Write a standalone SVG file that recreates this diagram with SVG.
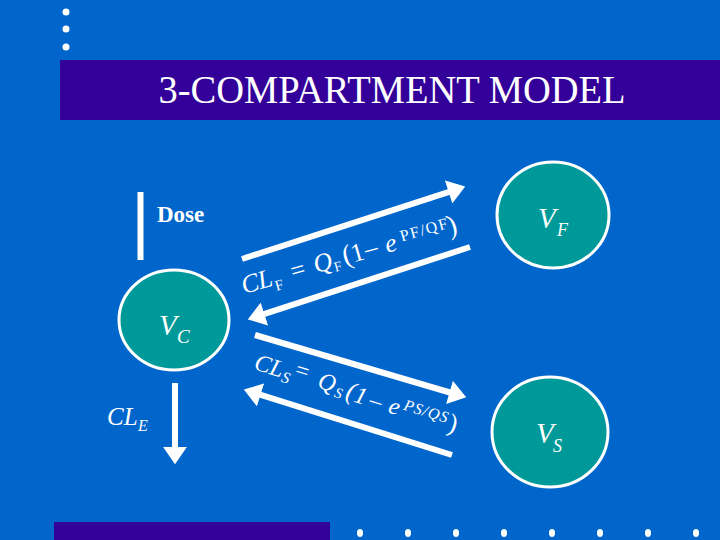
<svg xmlns="http://www.w3.org/2000/svg" width="720" height="540" viewBox="0 0 720 540">
<defs>
<style>
.t{fill:#fff;font-family:"Liberation Serif","Times New Roman",serif}
.i{font-style:italic}
.comp{fill:#009999;stroke:#fff;stroke-width:3}
.ln{stroke:#fff;stroke-width:6;fill:none}
.dot{fill:#fff}
</style>
<marker id="ah" markerUnits="userSpaceOnUse" markerWidth="18" markerHeight="24" viewBox="0 0 16 22" refX="2" refY="11" orient="auto">
<path d="M0,0 L16,11 L0,22 Z" fill="#fff"/>
</marker>
</defs>
<rect width="720" height="540" fill="#0066CC"/>
<g id="decor">
<ellipse class="dot" cx="66" cy="12" rx="3.5" ry="3.5"/>
<ellipse class="dot" cx="66" cy="29" rx="3.5" ry="3.5"/>
<ellipse class="dot" cx="66" cy="47" rx="3.5" ry="3.5"/>
<rect x="54" y="522" width="276" height="18" fill="#330099"/>
<ellipse class="dot" cx="360" cy="533" rx="3" ry="4"/>
<ellipse class="dot" cx="408" cy="533" rx="3" ry="4"/>
<ellipse class="dot" cx="456" cy="533" rx="3" ry="4"/>
<ellipse class="dot" cx="504" cy="533" rx="3" ry="4"/>
<ellipse class="dot" cx="552" cy="533" rx="3" ry="4"/>
<ellipse class="dot" cx="600" cy="533" rx="3" ry="4"/>
<ellipse class="dot" cx="648" cy="533" rx="3" ry="4"/>
<ellipse class="dot" cx="696" cy="533" rx="3" ry="4"/>
</g>
<g id="title">
<rect x="60" y="60" width="660" height="60" fill="#330099"/>
<text class="t" x="392" y="103" font-size="38" text-anchor="middle" textLength="467" lengthAdjust="spacingAndGlyphs" transform="translate(392,103) scale(1,1.08) translate(-392,-103)">3-COMPARTMENT MODEL</text>
</g>
<g id="dose">
<line x1="140.5" y1="192" x2="140.5" y2="260" class="ln" stroke-width="5"/>
<text class="t" x="157" y="222" font-size="23" font-weight="bold">Dose</text>
</g>
<g id="VC">
<ellipse class="comp" cx="174" cy="320" rx="55" ry="50"/>
<text class="t i" x="159" y="335" font-size="29">V</text>
<text class="t i" x="177" y="343" font-size="19">C</text>
</g>
<g id="VF">
<ellipse class="comp" cx="553" cy="215" rx="56" ry="53"/>
<text class="t i" x="538" y="228" font-size="29">V</text>
<text class="t i" x="557" y="236" font-size="18">F</text>
</g>
<g id="VS">
<ellipse class="comp" cx="550" cy="432" rx="58" ry="55"/>
<text class="t i" x="536" y="443" font-size="29">V</text>
<text class="t i" x="553" y="452" font-size="18">S</text>
</g>
<g id="connectors">
<line class="ln" x1="242" y1="259" x2="450.7" y2="191.3" marker-end="url(#ah)"/>
<line class="ln" x1="470" y1="247" x2="262.3" y2="314.7" marker-end="url(#ah)"/>
<line class="ln" x1="255" y1="335" x2="451.6" y2="393" marker-end="url(#ah)"/>
<line class="ln" x1="452" y1="455" x2="258.4" y2="394.2" marker-end="url(#ah)"/>
<line class="ln" x1="175" y1="383" x2="175" y2="449" marker-end="url(#ah)"/>
</g>
<g id="label-CLE">
<text class="t i" x="107" y="425" font-size="25">CL</text>
<text class="t i" x="138" y="431" font-size="16">E</text>
</g>
<g id="label-CLF" transform="translate(244,294) rotate(-16)">
<text class="t i" x="0" y="0" font-size="26">C</text>
<text class="t i" x="17" y="0" font-size="26">L</text>
<text class="t" x="32" y="6" font-size="15">F</text>
<text class="t" x="51" y="0" font-size="26">=</text>
<text class="t i" x="75" y="0" font-size="26">Q</text>
<text class="t" x="94" y="4" font-size="14">F</text>
<text class="t" x="105" y="0" font-size="28">(</text>
<text class="t" x="114" y="0" font-size="26">1</text>
<text class="t" x="128" y="-1" font-size="26">–</text>
<text class="t i" x="149" y="0" font-size="26">e</text>
<text class="t" x="166" y="-7" font-size="16" letter-spacing="1.5">PF/QF</text>
<text class="t" x="214" y="0" font-size="28">)</text>
</g>
<g id="label-CLS" transform="translate(253,369) rotate(17)">
<text class="t i" x="0" y="0" font-size="24">C</text>
<text class="t i" x="16" y="0" font-size="24">L</text>
<text class="t i" x="30" y="4" font-size="16">S</text>
<text class="t" x="41" y="-5" font-size="24">=</text>
<text class="t i" x="66" y="-1" font-size="24">Q</text>
<text class="t i" x="85" y="3" font-size="15">S</text>
<text class="t i" x="96" y="1" font-size="26">(</text>
<text class="t i" x="105" y="2" font-size="24">1</text>
<text class="t" x="121" y="2" font-size="24">–</text>
<text class="t i" x="141" y="2" font-size="24">e</text>
<text class="t i" x="155" y="-5" font-size="16" letter-spacing="1">PS/QS</text>
<text class="t" x="203" y="2" font-size="26">)</text>
</g>
</svg>
